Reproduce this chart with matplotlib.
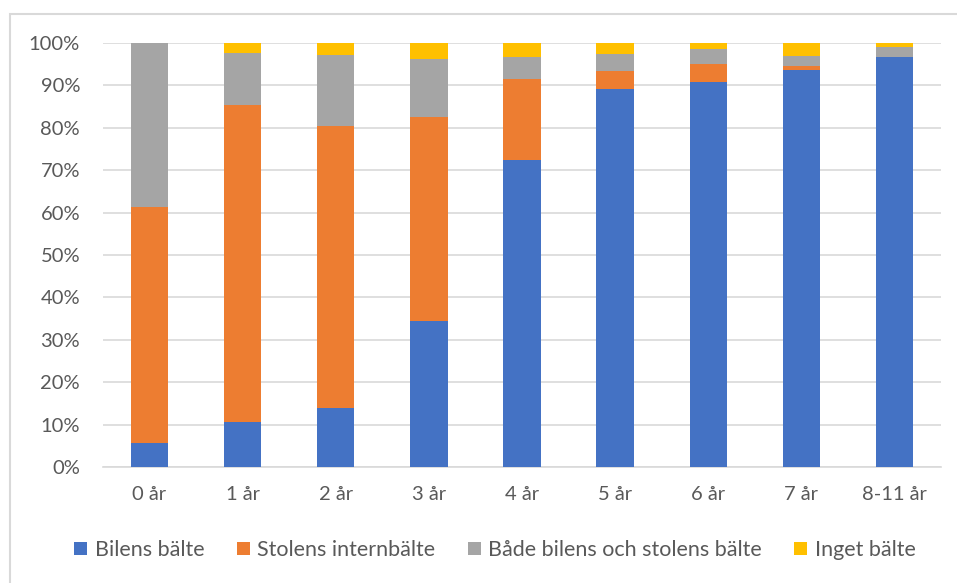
import matplotlib
matplotlib.use("Agg")
import matplotlib.pyplot as plt
from matplotlib.patches import Rectangle
import numpy as np

categories = ["0 år", "1 år", "2 år", "3 år", "4 år", "5 år", "6 år", "7 år", "8-11 år"]
bilens = [5.6, 10.7, 14.0, 34.4, 72.4, 89.1, 90.8, 93.6, 96.6]
stolens = [55.7, 74.6, 66.5, 48.2, 19.0, 4.4, 4.3, 0.9, 0.0]
bade = [38.7, 12.4, 16.7, 13.6, 5.2, 4.0, 3.6, 2.4, 2.5]
inget = [0.0, 2.3, 2.8, 3.8, 3.4, 2.5, 1.3, 3.1, 0.9]
series_names = ["Bilens bälte", "Stolens internbälte", "Både bilens och stolens bälte", "Inget bälte"]
colors = ["#4472C4", "#ED7D31", "#A5A5A5", "#FFC000"]
yticks = [0, 10, 20, 30, 40, 50, 60, 70, 80, 90, 100]

plt.rcParams['font.family'] = ['Lato', 'DejaVu Sans']
W, H = 957, 583
fig = plt.figure(figsize=(W / 100, H / 100), dpi=100)
ax = fig.add_axes([103 / W, (H - 467) / H, 838 / W, 424 / H])

x = np.arange(len(categories))
bottom = np.zeros(len(categories))
handles = []
for vals, name, c in zip([bilens, stolens, bade, inget], series_names, colors):
    v = np.array(vals)
    b = ax.bar(x, v, 0.4, bottom=bottom, color=c, label=name, zorder=3)
    handles.append(b)
    bottom += v

ax.set_xlim(-0.5, len(categories) - 0.5)
ax.set_ylim(0, 100)
ax.set_yticks(yticks)
ax.set_yticklabels([f"{t}%" for t in yticks])
ax.set_xticks(x)
ax.set_xticklabels(categories)
ax.tick_params(axis='both', length=0, labelsize=14.5, colors='#595959')
ax.tick_params(axis='y', pad=16.5)
ax.tick_params(axis='x', pad=14)
ax.grid(axis='y', color='#d9d9d9', linewidth=1.2, zorder=0)
for s in ['top', 'right', 'left']:
    ax.spines[s].set_visible(False)
ax.spines['bottom'].set_color('#d9d9d9')
ax.spines['bottom'].set_linewidth(1.2)

leg = fig.legend(handles=handles, labels=series_names, loc='center',
                 bbox_to_anchor=(495 / W, (H - 550) / H), ncol=4, frameon=False,
                 fontsize=15.5, handlelength=0.6, handleheight=0.6, handletextpad=0.35,
                 columnspacing=1.5)
for t in leg.get_texts():
    t.set_color('#595959')

fig.patches.append(Rectangle((10 / W, -0.1), 1.2, (H - 14) / H + 0.1, transform=fig.transFigure,
                             fill=False, edgecolor='#d9d9d9', linewidth=1.5, clip_on=False))

fig.savefig("out.png", dpi=100)
